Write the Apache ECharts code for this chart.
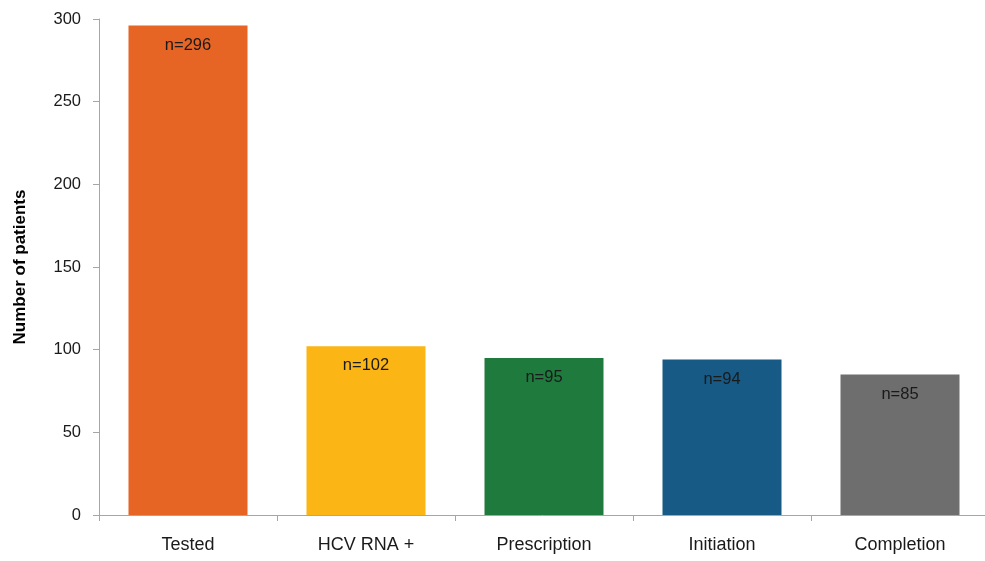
<!DOCTYPE html>
<html>
<head>
<meta charset="utf-8">
<script src="https://cdn.jsdelivr.net/npm/echarts@6/dist/echarts.min.js"></script>
<style>html,body{margin:0;padding:0;background:#fff;}#c{width:985px;height:561px;}</style>
</head>
<body>
<div id="c"></div>
<script>
const categories = ['Tested', 'HCV RNA +', 'Prescription', 'Initiation', 'Completion'];
const values = [296, 102, 95, 94, 85];
const barColors = ['#E66424', '#FBB515', '#1F7A3D', '#175A85', '#6E6E6E'];
const yTicks = { min: 0, max: 300, interval: 50 };
const yTitle = 'Number of patients';

const chart = echarts.init(document.getElementById('c'));
const FONT = '"Liberation Sans", Arial, sans-serif';
chart.setOption({
  animation: false,
  grid: { left: 99, width: 890, top: 19, bottom: 46, containLabel: false, outerBoundsMode: 'none' },
  xAxis: {
    type: 'category',
    data: categories,
    axisLine: { show: true, lineStyle: { color: '#a6a6a6', width: 1 } },
    axisTick: { show: true, length: 6, alignWithLabel: false, lineStyle: { color: '#a6a6a6' } },
    axisLabel: { fontFamily: FONT, fontSize: 18, color: '#1a1a1a', margin: 21 }
  },
  yAxis: {
    type: 'value',
    min: yTicks.min, max: yTicks.max, interval: yTicks.interval,
    name: yTitle,
    nameLocation: 'middle',
    nameGap: 70,
    nameTextStyle: { fontFamily: FONT, fontSize: 17, fontWeight: 'bold', color: '#000' },
    axisLine: { show: true, lineStyle: { color: '#a6a6a6', width: 1 } },
    axisTick: { show: true, length: 6, lineStyle: { color: '#a6a6a6' } },
    splitLine: { show: false },
    axisLabel: { fontFamily: FONT, fontSize: 16.5, color: '#1a1a1a', margin: 18 }
  },
  series: [{
    type: 'bar',
    data: values.map((v, i) => ({ value: v, itemStyle: { color: barColors[i] } })),
    barWidth: 119,
    label: {
      show: true,
      position: 'insideTop',
      distance: 11,
      fontFamily: FONT,
      fontSize: 16.5,
      color: '#1a1a1a',
      formatter: p => 'n=' + p.value
    }
  }]
});
</script>
</body>
</html>
